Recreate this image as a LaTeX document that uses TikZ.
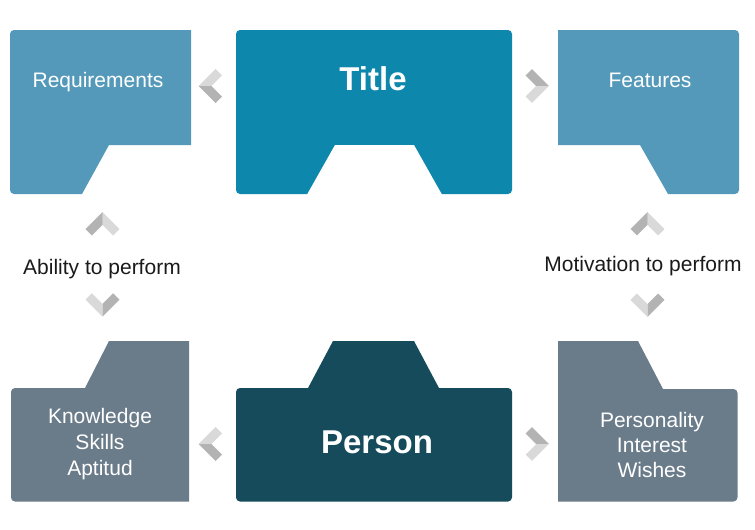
\documentclass[tikz,border=0pt]{standalone}
\usepackage{fontspec}
\setmainfont{Liberation Sans}
\definecolor{lightblue}{HTML}{5499BA}
\definecolor{titleblue}{HTML}{0E87AD}
\definecolor{persondark}{HTML}{164B5C}
\definecolor{slategrey}{HTML}{6A7B8A}
\definecolor{chevlight}{HTML}{D9D9D9}
\definecolor{chevdark}{HTML}{B3B3B3}
\definecolor{labeltext}{HTML}{1A1A1A}
\newcommand\chevmark[5]{%
  \begin{scope}[shift={(#1,#2)},#3]
    \fill[#4] (-6.36,0) -- (10.62,-16.98) -- (16.98,-10.62) -- (6.36,0) -- cycle;
    \fill[#5] (-6.36,0) -- (6.36,0) -- (16.98,10.62) -- (10.62,16.98) -- cycle;
  \end{scope}}
\begin{document}
\begin{tikzpicture}[x=1pt,y=-1pt,
  boxtext/.style={text=white, font=\fontsize{21}{25}\selectfont, inner sep=0pt},
  bigtext/.style={text=white, font=\fontsize{33}{38}\selectfont\bfseries, inner sep=0pt, anchor=base},
  sidetext/.style={text=labeltext, font=\fontsize{21}{25}\selectfont, inner sep=0pt, anchor=base}]
\useasboundingbox[fill=white] (0,0) rectangle (755,530);

% Requirements box
\fill[lightblue] [rounded corners=4pt] (10,194) rectangle (60,30)
  [sharp corners] (40,30) -- (191,30) -- (191,145) -- (109,145) -- (82,194) -- (40,194) -- cycle;
% Title box
\fill[titleblue, rounded corners=4pt] (236,194) rectangle (512,30);
\fill[white] (306.2,196) -- (335,145) -- (414,145) -- (442.8,196) -- cycle;
% Features box
\fill[lightblue] [rounded corners=4pt] (700,194) rectangle (739,30)
  [sharp corners] (558,30) -- (720,30) -- (720,194) -- (668,194) -- (640,145) -- (558,145) -- cycle;

% Knowledge box
\fill[slategrey] [rounded corners=4pt] (11,501.5) rectangle (60,388)
  [sharp corners] (40,388) -- (85,388) -- (109,341) -- (189,341) -- (189,501.5) -- (40,501.5) -- cycle;
% Person box
\fill[persondark] [rounded corners=4pt] (236,501.5) rectangle (512,388)
  [sharp corners] (305.9,392) -- (333,341) -- (414,341) -- (441.1,392) -- cycle;
% Personality box
\fill[slategrey] [rounded corners=4pt] (700,501.5) rectangle (737.5,389)
  [sharp corners] (558,341) -- (638,341) -- (663,389) -- (720,389) -- (720,501.5) -- (558,501.5) -- cycle;

% texts
\node[boxtext, anchor=base] (req) at (98,87.7) {Requirements};
\node[bigtext] (title) at (373,90) {Title};
\node[boxtext, anchor=base] (feat) at (650,87.7) {Features};
\node[bigtext] (person) at (377,453) {Person};
\node[boxtext, anchor=north, align=center, font=\fontsize{21}{26}\selectfont] (know) at (100,407.6) {Knowledge\\Skills\\Aptitud};
\node[boxtext, anchor=north, align=center, font=\fontsize{21}{25}\selectfont] (pers) at (652,412.2) {Personality\\Interest\\Wishes};
\node[sidetext] (ability) at (102,274) {Ability to perform};
\node[sidetext] (motiv) at (643,271) {Motivation to perform};

% chevrons
\chevmark{205}{86}{}{chevlight}{chevdark}
\chevmark{542.6}{86}{xscale=-1}{chevdark}{chevlight}
\chevmark{205}{444}{}{chevlight}{chevdark}
\chevmark{542.6}{444}{xscale=-1}{chevdark}{chevlight}
\chevmark{102.5}{218.4}{rotate=-90}{chevlight}{chevdark}
\chevmark{102.5}{310.3}{rotate=90}{chevlight}{chevdark}
\chevmark{647.5}{218.4}{rotate=-90}{chevlight}{chevdark}
\chevmark{647.5}{310.5}{rotate=90}{chevlight}{chevdark}
\end{tikzpicture}
\end{document}
